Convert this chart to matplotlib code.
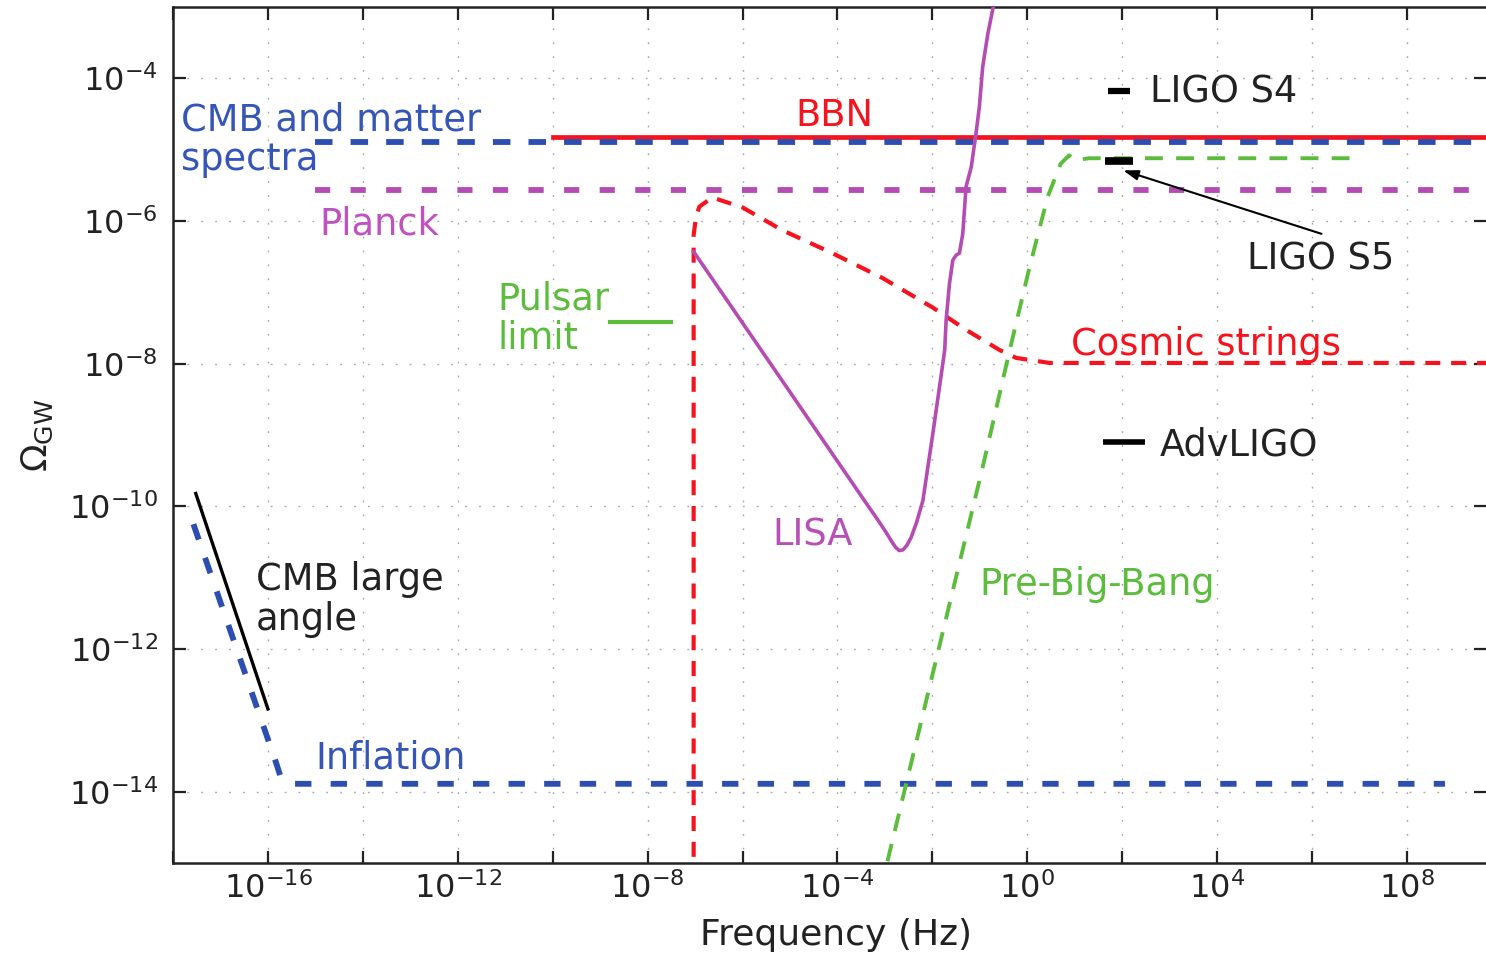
import matplotlib
matplotlib.use('Agg')
import matplotlib.pyplot as plt
import numpy as np
from matplotlib.ticker import FixedLocator, FuncFormatter, NullLocator

plt.rcParams['font.family'] = ['DejaVu Sans']
plt.rcParams['mathtext.fontset'] = 'dejavusans'

# 颜色
BLUE = '#2c4eb0'
RED = '#f5141e'
MAG = '#b44cb4'
GREEN = '#5cbd3c'

# 数据 (log10 f, log10 Omega)
cmb_matter_logf = [-15.0, 10.0]
cmb_matter_logom = [-4.89, -4.89]

bbn_logf = [-10.0, 10.0]
bbn_logom = [-4.82, -4.82]

planck_logf = [-15.0, 10.0]
planck_logom = [-5.57, -5.57]

inflation_logf = [-17.57, -15.82, -15.72, -15.55, 8.8]
inflation_logom = [-10.25, -13.61, -13.82, -13.89, -13.89]

cmb_large_logf = [-17.52, -16.0]
cmb_large_logom = [-9.82, -12.84]

strings_logf = [-7.03, -7.03, -7.03, -6.98, -6.91, -6.64, -6.00, -5.16, -4.11,
                -3.05, -2.00, -1.28, -0.58, -0.23, 0.47, 10.0]
strings_logom = [-16.0, -6.41, -6.20, -5.94, -5.80, -5.67, -5.81, -6.13, -6.45,
                 -6.80, -7.21, -7.53, -7.81, -7.92, -7.99, -7.99]

lisa_logf = [-7.03, -3.40, -3.15, -2.98, -2.86, -2.78, -2.70, -2.62, -2.54, -2.45,
             -2.33, -2.20, -1.99, -1.84, -1.74, -1.71, -1.64, -1.57, -1.50, -1.43,
             -1.36, -1.29, -1.18, -1.08, -1.01, -0.94, -0.83, -0.73, -0.65]
lisa_logom = [-6.43, -9.95, -10.19, -10.36, -10.49, -10.57, -10.62, -10.61, -10.55, -10.44,
              -10.22, -9.92, -8.98, -8.28, -7.81, -7.39, -6.88, -6.55, -6.48, -6.45,
              -6.18, -5.52, -5.24, -4.77, -4.40, -3.84, -3.37, -3.04, -2.80]

pbb_logf = [-3.10, -1.78, -0.94, -0.37, 0.05, 0.43, 0.70, 0.88, 1.00, 1.30, 7.0]
pbb_logom = [-15.40, -11.76, -9.45, -7.81, -6.64, -5.66, -5.20, -5.08, -5.15, -5.12, -5.12]

pulsar_logf = [-8.80, -7.51]
pulsar_logom = [-7.42, -7.42]

ligo_s4_logf = [1.70, 2.16]
ligo_s4_logom = [-4.18, -4.18]
ligo_s5_logf = [1.64, 2.23]
ligo_s5_logom = [-5.16, -5.16]
advligo_logf = [1.59, 2.48]
advligo_logom = [-9.10, -9.10]

xtick_exps = list(range(-18, 11, 2))
xlabel_exps = [-16, -12, -8, -4, 0, 4, 8]
ytick_exps = list(range(-14, -3, 2))


def p(lf, lo):
    return 10.0 ** np.array(lf), 10.0 ** np.array(lo)


fig = plt.figure(figsize=(14.86, 9.57), dpi=100)
ax = fig.add_axes([173 / 1486, 1 - 863 / 957, 1 - 173 / 1486, (863 - 7) / 957])
ax.set_xscale('log')
ax.set_yscale('log')
ax.set_xlim(1e-18, 10 ** 9.665)
ax.set_ylim(1e-15, 1e-3)

# 曲线
ax.plot(*p(cmb_matter_logf, cmb_matter_logom), color=BLUE, lw=4.2, dashes=(3.0, 3.1), zorder=3)
ax.plot(*p(bbn_logf, bbn_logom), color=RED, lw=3.4, zorder=2)
ax.plot(*p(planck_logf, planck_logom), color=MAG, lw=4.2, dashes=(2.6, 3.5), zorder=3)
ax.plot(*p(inflation_logf, inflation_logom), color=BLUE, lw=4.2, dashes=(2.8, 3.3), zorder=3)
ax.plot(*p(cmb_large_logf, cmb_large_logom), color='black', lw=2.4, zorder=4)
ax.plot(*p(strings_logf, strings_logom), color=RED, lw=3.0, dashes=(3.6, 2.6), zorder=3)
ax.plot(*p(lisa_logf, lisa_logom), color=MAG, lw=2.6, zorder=4)
ax.plot(*p(pbb_logf, pbb_logom), color=GREEN, lw=2.8, dashes=(4.6, 3.4), zorder=3)
ax.plot(*p(pulsar_logf, pulsar_logom), color=GREEN, lw=3.0, zorder=3)
ax.plot(*p(ligo_s4_logf, ligo_s4_logom), color='black', lw=4.5, solid_capstyle='butt', zorder=5)
ax.plot(*p(ligo_s5_logf, ligo_s5_logom), color='black', lw=5.5, solid_capstyle='butt', zorder=5)
ax.plot(*p(advligo_logf, advligo_logom), color='black', lw=4.0, solid_capstyle='butt', zorder=5)

ax.annotate('', xy=(10 ** 2.02, 10 ** -5.29), xytext=(10 ** 6.2, 10 ** -6.18),
            arrowprops=dict(arrowstyle='-|>,head_length=0.9,head_width=0.3',
                            color='black', lw=1.5, shrinkA=0, shrinkB=0), zorder=6)

# 文字
fs = 26.5
ax.text(10 ** -17.83, 10 ** -4.86, 'CMB and matter\nspectra', color='#3556b8', fontsize=fs,
        va='center', ha='left', linespacing=1.1)
ax.text(10 ** -4.06, 10 ** -4.47, 'BBN', color=RED, fontsize=fs, va='center_baseline', ha='center')
ax.text(10 ** -14.92, 10 ** -5.99, 'Planck', color='#c052c0', fontsize=fs, va='center_baseline')
ax.text(10 ** -11.17, 10 ** -7.37, 'Pulsar\nlimit', color=GREEN, fontsize=fs, va='center',
        linespacing=1.1)
ax.text(10 ** 0.93, 10 ** -7.67, 'Cosmic strings', color=RED, fontsize=fs, va='center_baseline')
ax.text(10 ** -5.38, 10 ** -10.35, 'LISA', color='#b650b6', fontsize=fs, va='center_baseline')
ax.text(10 ** -1.01, 10 ** -11.04, 'Pre-Big-Bang', color=GREEN, fontsize=fs, va='center_baseline')
ax.text(10 ** -16.25, 10 ** -11.31, 'CMB large\nangle', color='#222222', fontsize=fs, va='center',
        linespacing=1.1)
ax.text(10 ** -14.99, 10 ** -13.47, 'Inflation', color='#3556b8', fontsize=fs, va='center_baseline')
ax.text(10 ** 2.58, 10 ** -4.14, 'LIGO S4', color='#222222', fontsize=fs, va='center_baseline')
ax.text(10 ** 4.62, 10 ** -6.48, 'LIGO S5', color='#222222', fontsize=fs, va='center_baseline')
ax.text(10 ** 2.79, 10 ** -9.09, 'AdvLIGO', color='#222222', fontsize=fs, va='center_baseline')

# 坐标轴
ax.xaxis.set_major_locator(FixedLocator([10.0 ** e for e in xtick_exps]))
ax.xaxis.set_minor_locator(NullLocator())
ax.xaxis.set_major_formatter(FuncFormatter(
    lambda v, pos: r'$10^{%d}$' % round(np.log10(v)) if round(np.log10(v)) in xlabel_exps else ''))
ax.yaxis.set_major_locator(FixedLocator([10.0 ** e for e in ytick_exps]))
ax.yaxis.set_minor_locator(NullLocator())
ax.yaxis.set_major_formatter(FuncFormatter(lambda v, pos: r'$10^{%d}$' % round(np.log10(v))))

ax.tick_params(axis='both', which='major', direction='in', length=9, width=1.6,
               top=True, right=True, labelsize=23, colors='#222222')
ax.tick_params(axis='x', pad=7)
ax.tick_params(axis='y', pad=11)
ax.grid(True, color='#a8a8a8', lw=1.0, linestyle=(0, (1.3, 8.7)))
ax.set_axisbelow(True)
for s in ['left', 'bottom', 'top']:
    ax.spines[s].set_linewidth(1.8)
    ax.spines[s].set_color('#222222')
ax.spines['right'].set_visible(False)

ax.set_xlabel('Frequency (Hz)', fontsize=26, color='#222222')
ax.xaxis.set_label_coords(0.505, -0.064)
ax.set_ylabel(r'$\Omega_{\rm GW}$', fontsize=26, color='#222222')
ax.yaxis.set_label_coords(-0.09, 0.5)

plt.savefig('out.png', dpi=100)
